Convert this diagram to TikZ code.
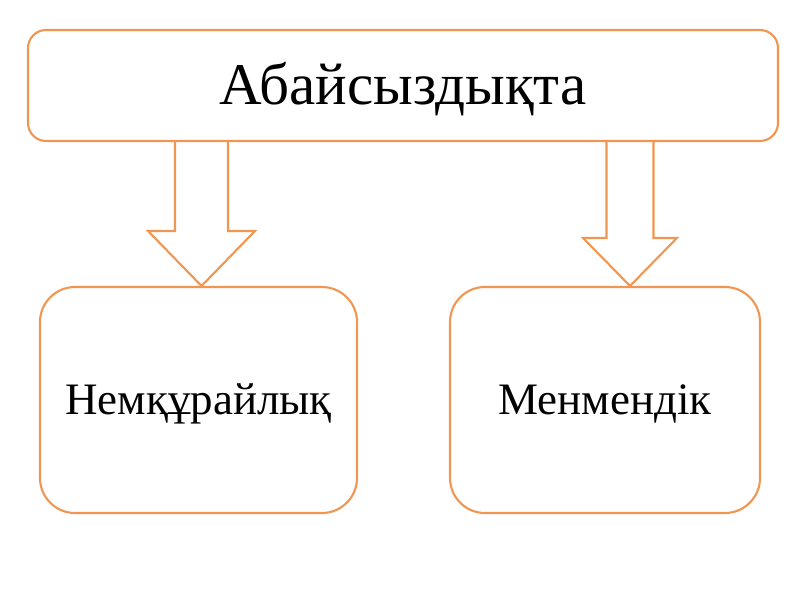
\documentclass[tikz,border=0pt]{standalone}
\usepackage{fontspec}
\setmainfont{Liberation Serif}
\usepackage{xcolor}
\usepackage{tikz}
\usetikzlibrary{positioning,calc}
\definecolor{OrangeLine}{RGB}{240,150,80}

% block arrow pointing down: from, to, x-coordinate, half shaft, half head, head length
\newcommand{\downblockarrow}[6]{%
  \draw[blockarrow] let \p1=(#1.south -| #3), \p2=(#2.north -| #3) in
    (\x1-#4,\y1) -- (\x1-#4,\y2+#6) -- (\x1-#5,\y2+#6) -- (\x1,\y2)
    -- (\x1+#5,\y2+#6) -- (\x1+#4,\y2+#6) -- (\x1+#4,\y1);
}

\begin{document}
\begin{tikzpicture}[
  topbox/.style={rectangle, draw=OrangeLine, fill=white, line width=1.5pt, rounded corners=0.45cm, minimum width=18.75cm, minimum height=2.775cm, text height=27pt, text depth=0pt, font=\fontsize{42}{48}\selectfont},
  subbox/.style={rectangle, draw=OrangeLine, fill=white, line width=1.5pt, rounded corners=0.875cm, minimum height=5.65cm, text height=20pt, text depth=0pt, font=\fontsize{32}{38}\selectfont},
  blockarrow/.style={draw=OrangeLine, line width=1.5pt, line join=miter}
]
  \useasboundingbox (0,0) rectangle (20,-15);

  % Nodes
  \node[topbox] (careless) at (10.075,-2.1375) {Абайсыздықта};
  \node[subbox, minimum width=7.925cm] (indiff) at (4.9625,-10) {Немқұрайлық};
  \node[subbox, minimum width=7.75cm] (arrog) at (15.125,-10) {Менмендік};

  \coordinate (leftx) at (5.0375,0);
  \coordinate (rightx) at (15.75,0);

  % Arrows
  \downblockarrow{careless}{indiff}{leftx}{0.6625cm}{1.3375cm}{1.375cm}
  \downblockarrow{careless}{arrog}{rightx}{0.5875cm}{1.175cm}{1.2cm}
\end{tikzpicture}
\end{document}
